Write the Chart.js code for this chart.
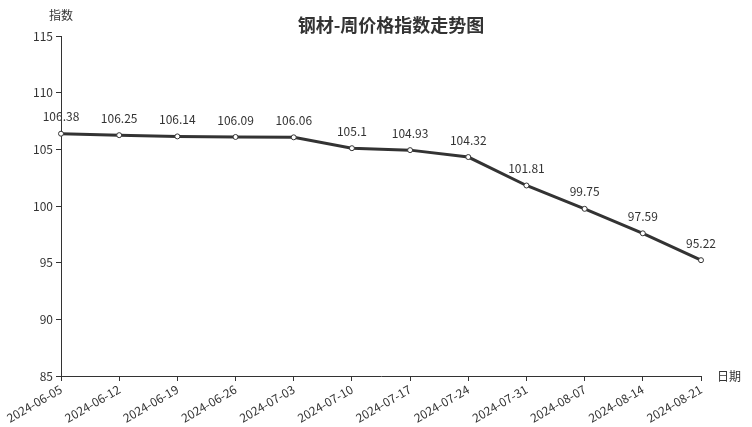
<!DOCTYPE html>
<html><head><meta charset="utf-8">
<script src="https://cdn.jsdelivr.net/npm/chart.js@4/dist/chart.umd.min.js"></script>
<style>html,body{margin:0;padding:0;background:#fff}#wrap{width:752px;height:427px}</style>
</head><body><div id="wrap"><canvas id="c" width="752" height="427"></canvas></div>
<script>
const categories = ["2024-06-05","2024-06-12","2024-06-19","2024-06-26","2024-07-03","2024-07-10","2024-07-17","2024-07-24","2024-07-31","2024-08-07","2024-08-14","2024-08-21"];
const values = [106.38,106.25,106.14,106.09,106.06,105.1,104.93,104.32,101.81,99.75,97.59,95.22];
const yTicks = [85,90,95,100,105,110,115];
const titleText = "钢材-周价格指数走势图";
const yName = "指数";
const xName = "日期";
const FONT = "'Noto Sans CJK SC','Noto Sans',sans-serif";
const DARK = "#333333";

const extras = {
  id: 'extras',
  afterDatasetsDraw(chart) {
    const ctx = chart.ctx;
    const meta = chart.getDatasetMeta(0);
    ctx.save();
    ctx.fillStyle = DARK;
    ctx.font = "12px " + FONT;
    ctx.textAlign = 'center';
    ctx.textBaseline = 'middle';
    meta.data.forEach((p, i) => {
      ctx.fillText(String(values[i]), p.x, p.y - 17);
    });
    ctx.restore();
  },
  afterDraw(chart) {
    const ctx = chart.ctx;
    const a = chart.chartArea;
    ctx.save();
    ctx.fillStyle = DARK;
    ctx.font = "bold 18px " + FONT;
    ctx.textAlign = 'center';
    ctx.textBaseline = 'middle';
    ctx.fillText(titleText, 391, 25);
    ctx.font = "12px " + FONT;
    ctx.fillText(yName, a.left, 15);
    ctx.textAlign = 'left';
    ctx.fillText(xName, a.right + 16, a.bottom);
    ctx.restore();
  }
};

new Chart(document.getElementById('c'), {
  type: 'line',
  data: {
    labels: categories,
    datasets: [{
      data: values,
      borderColor: DARK,
      borderWidth: 3,
      pointRadius: 2.5,
      pointBorderWidth: 1,
      pointBackgroundColor: '#ffffff',
      pointBorderColor: DARK,
      tension: 0,
      clip: false
    }]
  },
  options: {
    responsive: false,
    animation: false,
    events: [],
    layout: { padding: { top: 36, right: 51, left: 0, bottom: 0 } },
    plugins: { legend: { display: false }, tooltip: { enabled: false }, title: { display: false } },
    scales: {
      x: {
        offset: false,
        grid: { display: true, drawOnChartArea: false, drawTicks: true, tickLength: 5, color: DARK },
        border: { display: true, color: DARK, width: 1 },
        ticks: { color: DARK, font: { size: 12, family: FONT }, minRotation: 30, maxRotation: 30, autoSkip: false, padding: 1 },
        afterFit(s) { s.height = 51; }
      },
      y: {
        min: 85, max: 115,
        afterBuildTicks(s) { s.ticks = yTicks.map(v => ({ value: v })); },
        grid: { display: true, drawOnChartArea: false, drawTicks: true, tickLength: 5, color: DARK },
        border: { display: true, color: DARK, width: 1 },
        ticks: { color: DARK, font: { size: 12, family: FONT }, padding: 3 },
        afterFit(s) { s.width = 61; }
      }
    }
  },
  plugins: [extras]
});
</script>
</body></html>
